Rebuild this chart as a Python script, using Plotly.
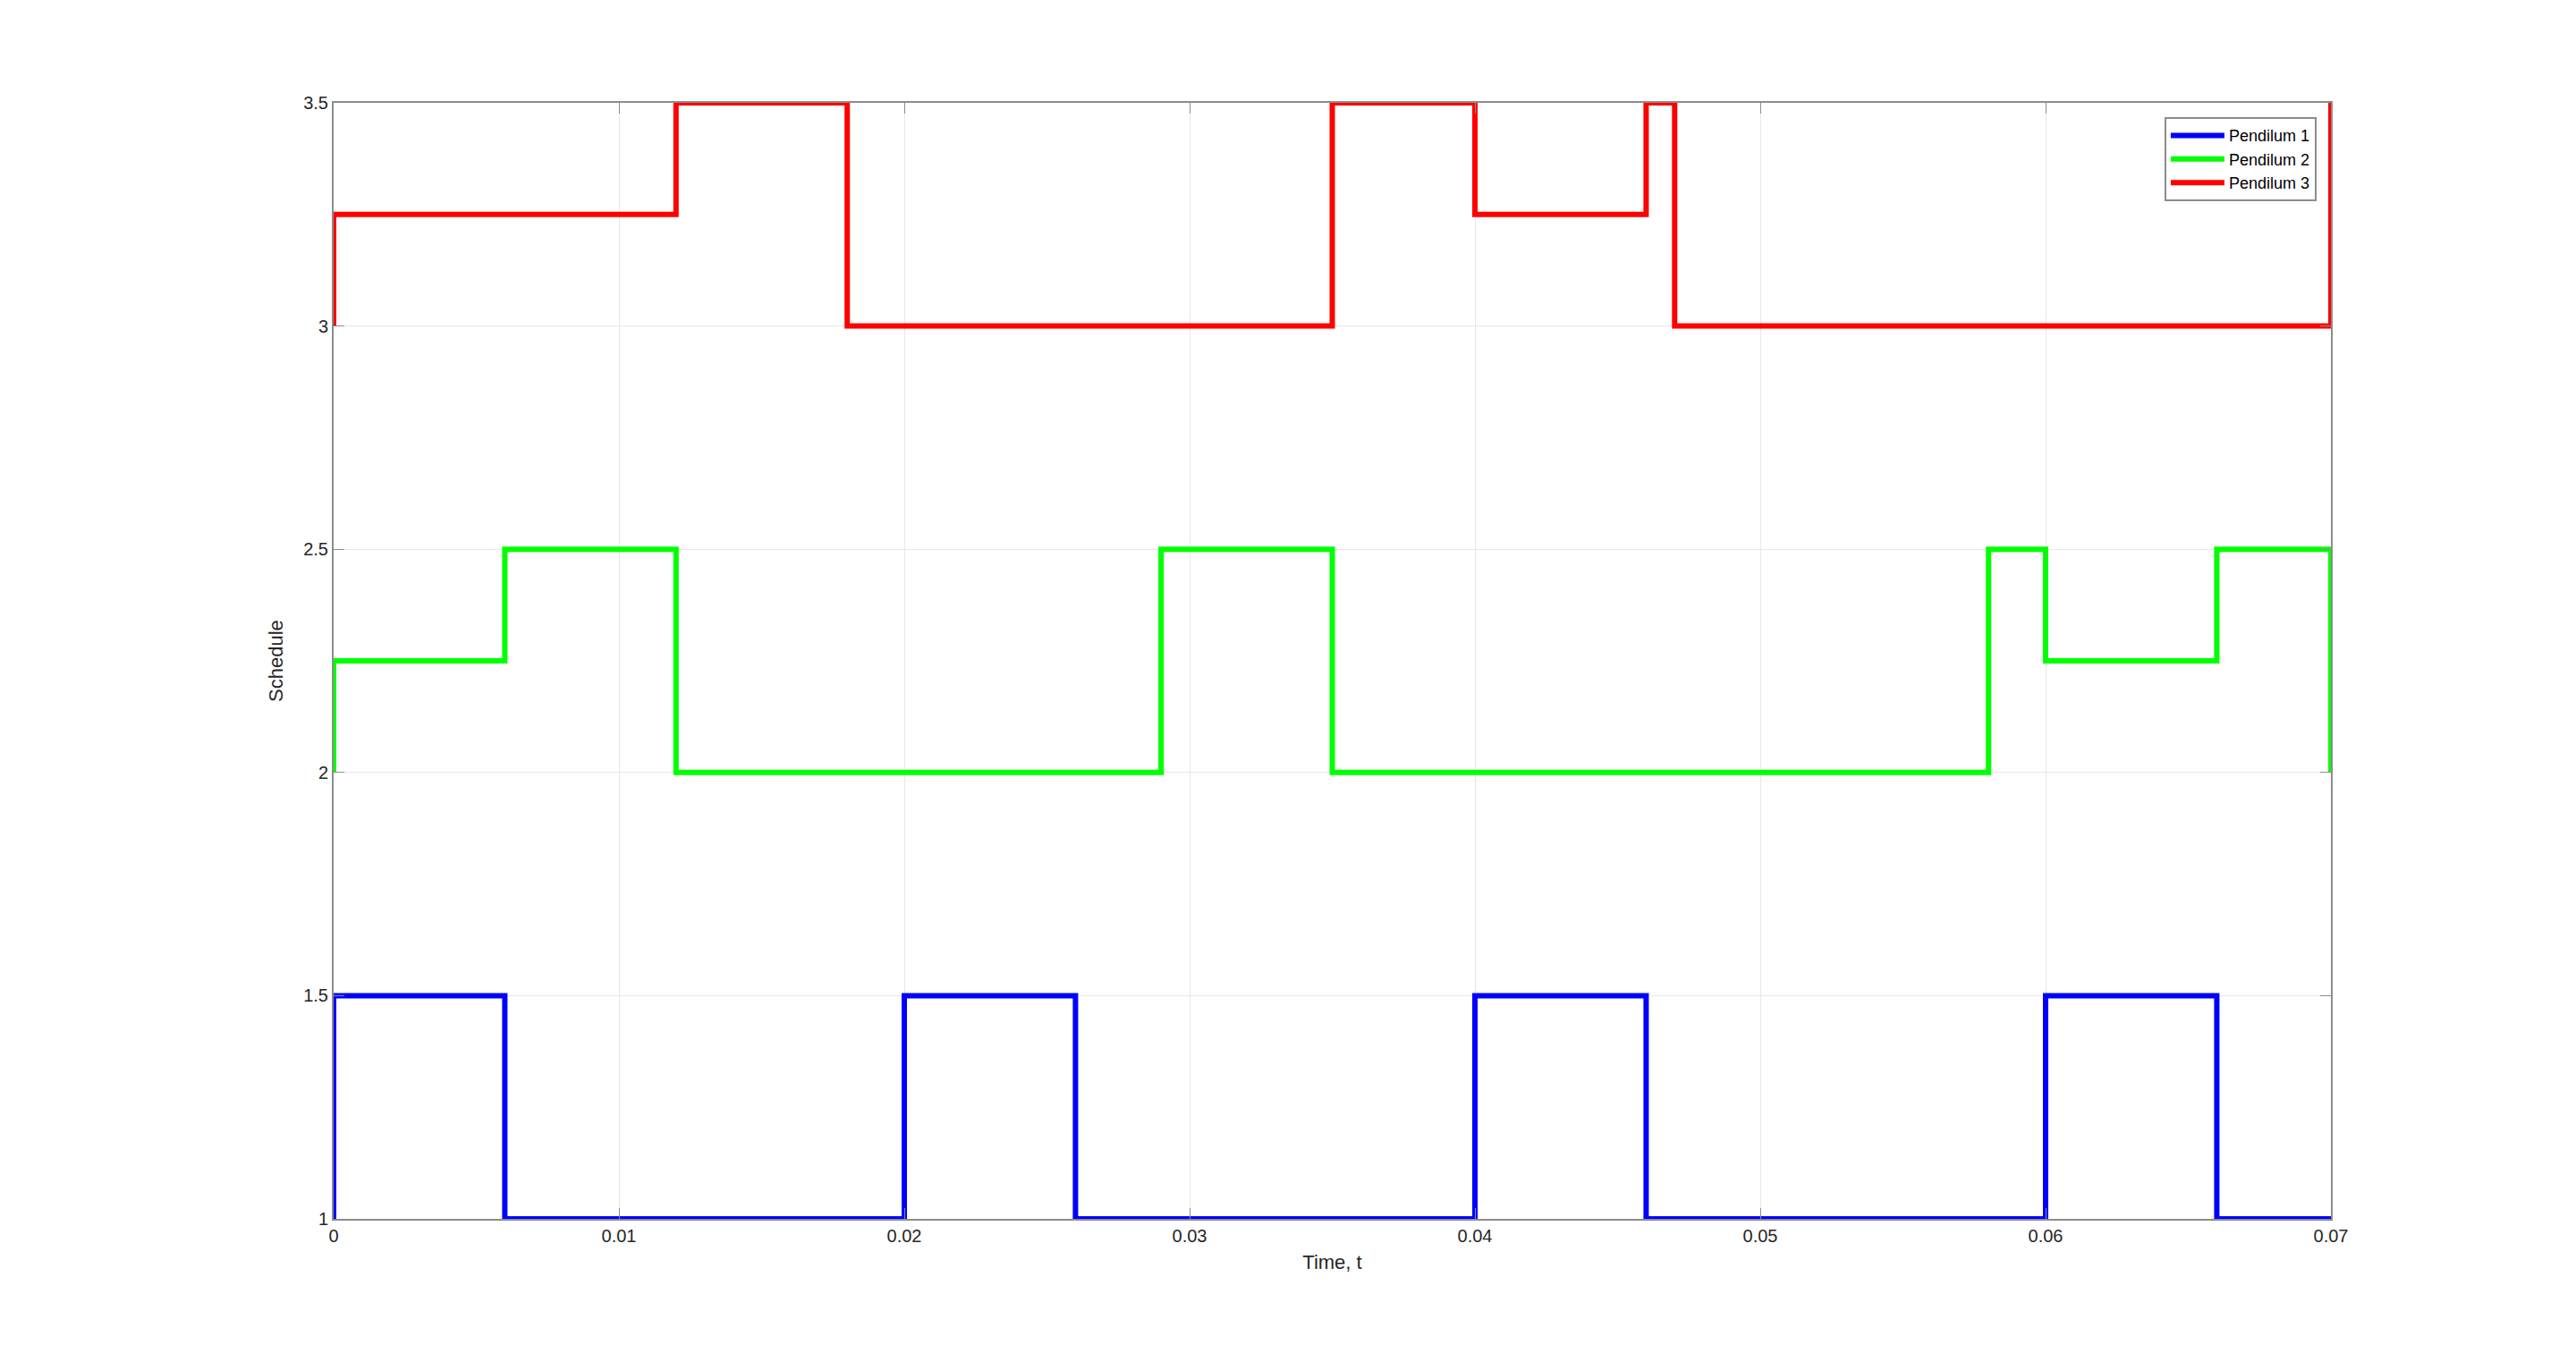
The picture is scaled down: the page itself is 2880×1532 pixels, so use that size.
import plotly.graph_objects as go

# Switch times and schedule values (step functions, held until next time)
t1 = [0, 0, 0.006, 0.020, 0.026, 0.040, 0.046, 0.060, 0.066, 0.070]
v1 = [1, 1.5, 1, 1.5, 1, 1.5, 1, 1.5, 1, 1]

t2 = [0, 0, 0.006, 0.012, 0.029, 0.035, 0.058, 0.060, 0.066, 0.070]
v2 = [2, 2.25, 2.5, 2, 2.5, 2, 2.5, 2.25, 2.5, 2]

t3 = [0, 0, 0.012, 0.018, 0.035, 0.040, 0.046, 0.047, 0.070]
v3 = [3, 3.25, 3.5, 3, 3.5, 3.25, 3.5, 3, 3.5]

names = ["Pendilum 1", "Pendilum 2", "Pendilum 3"]
colors = ["#0000ff", "#00ff00", "#ff0000"]

x_ticks = [0, 0.01, 0.02, 0.03, 0.04, 0.05, 0.06, 0.07]
x_ticklabels = ["0", "0.01", "0.02", "0.03", "0.04", "0.05", "0.06", "0.07"]
y_ticks = [1, 1.5, 2, 2.5, 3, 3.5]
y_ticklabels = ["1", "1.5", "2", "2.5", "3", "3.5"]

fig = go.Figure()
for t, v, n, c in zip([t1, t2, t3], [v1, v2, v3], names, colors):
    fig.add_trace(go.Scatter(x=t, y=v, mode="lines", name=n,
                             line=dict(color=c, width=6, shape="hv")))

font = "Liberation Sans, Arial, Helvetica, sans-serif"
axis_common = dict(
    showline=True, linecolor="#8c8c8c", linewidth=2, mirror="ticks",
    ticks="inside", ticklen=12, tickcolor="#8c8c8c", tickwidth=1,
    showgrid=True, gridcolor="#e8e8e8", gridwidth=1, zeroline=False,
    tickfont=dict(family=font, size=20, color="#262626"),
)

fig.update_layout(
    width=2880, height=1532,
    margin=dict(l=365, r=282, t=107, b=177),
    paper_bgcolor="white", plot_bgcolor="white",
    font=dict(family=font, color="#262626"),
    xaxis=dict(range=[0, 0.07], tickvals=x_ticks, ticktext=x_ticklabels,
               title=dict(text="Time, t", font=dict(size=22, color="#262626"), standoff=12),
               **axis_common),
    yaxis=dict(range=[1, 3.5], tickvals=y_ticks, ticktext=y_ticklabels,
               title=dict(text="Schedule", font=dict(size=22, color="#262626"), standoff=16),
               **axis_common),
    legend=dict(x=0.9928, y=0.987, xanchor="right", yanchor="top",
                bordercolor="#8c8c8c", borderwidth=2, bgcolor="white",
                font=dict(family=font, size=18, color="#000000"),
                tracegroupgap=0, itemwidth=60),
    showlegend=True,
)

fig.write_html("out.html")
